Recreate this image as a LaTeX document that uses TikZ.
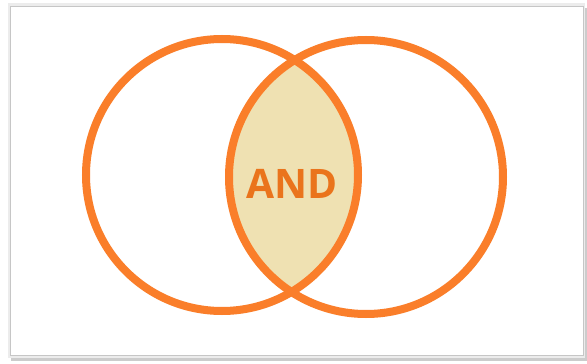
\documentclass[tikz,border=0pt]{standalone}
\usepackage{fontspec}
\setsansfont{Open Sans}
\usepackage{tikz}
\usetikzlibrary{positioning, backgrounds}
\definecolor{cRing}{HTML}{FA7E2A}
\definecolor{cLens}{HTML}{EFE1B2}
\definecolor{cText}{HTML}{EA741C}

\begin{document}
\begin{tikzpicture}[
  x=0.75pt, y=-0.75pt,
  ring/.style={circle, draw=cRing, line width=6pt, minimum size=#1*0.75pt, inner sep=0pt},
  lbl/.style={font=\sffamily\bfseries\fontsize{30.5}{32}\selectfont, text=cText}
]
\useasboundingbox (0,0) rectangle (587,364);
% frame with shadow
\fill[gray!40] (11,8) rectangle (587,361);
\fill[gray!15] (8,3) rectangle (585,358);
\filldraw[fill=white, draw=gray!45, line width=0.6pt] (10,6) rectangle (583,355);

% lens between the two rings
\begin{scope}
  \clip (222,175) circle (136);
  \fill[cLens] (366,177) circle (137);
\end{scope}

\node[ring=272] (setA) at (222,175) {};
\node[ring=274] (setB) at (366,177) {};
\node[lbl] (op) at (292,184) {AND};
\end{tikzpicture}
\end{document}
